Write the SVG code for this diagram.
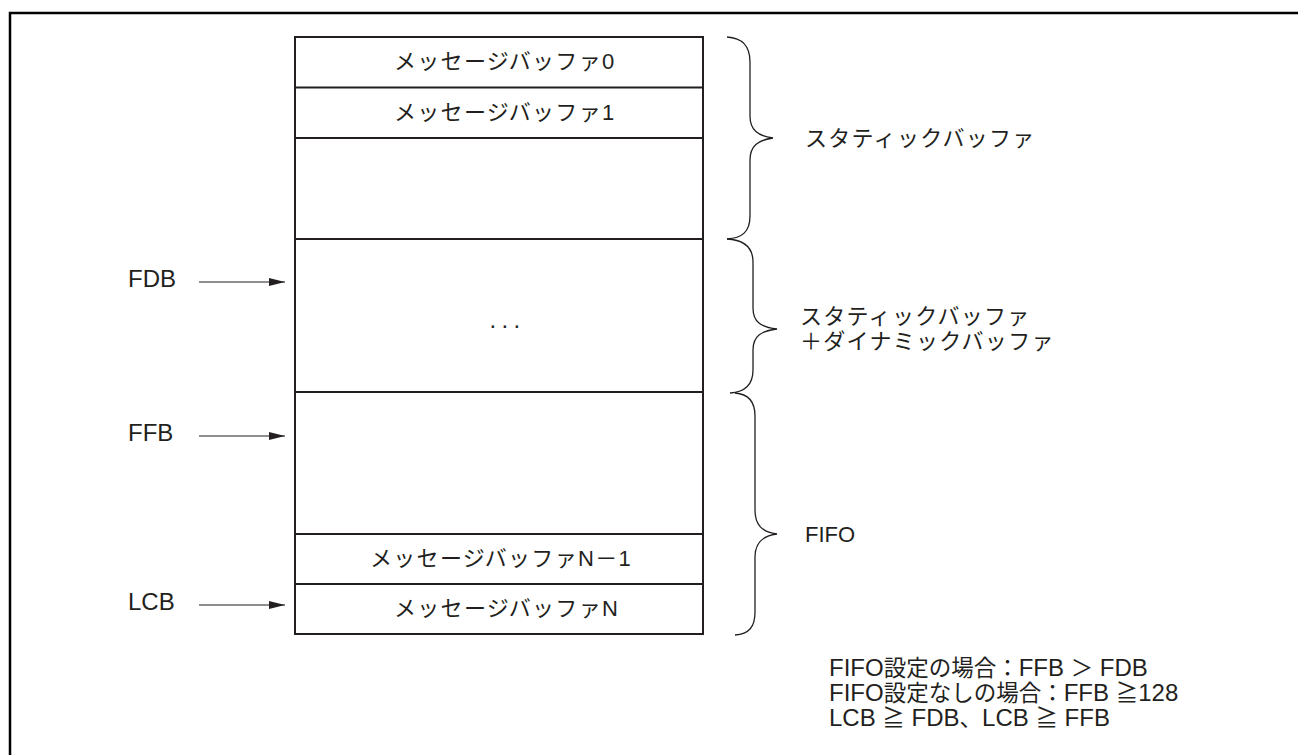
<svg xmlns="http://www.w3.org/2000/svg" width="1298" height="755" viewBox="0 0 1298 755">
<defs>
<style>
.t{font-family:"Liberation Sans","Noto Sans CJK JP",sans-serif;font-size:24px;fill:#231f20}
.k{font-family:"Liberation Sans","Noto Sans CJK JP",sans-serif;font-size:22px;letter-spacing:1.3px;fill:#231f20}
.j{font-size:22.5px}
.box{fill:#fff;stroke:#231f20;stroke-width:2}
.ln{stroke:#231f20;stroke-width:2;fill:none}
.br{stroke:#231f20;stroke-width:1.3;fill:none}
.ar{stroke:#231f20;stroke-width:1.2;fill:none}
</style>
<marker id="ah" viewBox="0 0 16 8" refX="16" refY="4" markerWidth="16" markerHeight="8" markerUnits="userSpaceOnUse" orient="auto">
<path d="M0,0 L16,4 L0,8 Z" fill="#231f20"/>
</marker>
</defs>
<rect width="1298" height="755" fill="#fff"/>
<path d="M10,755 V13 H1298" fill="none" stroke="#000" stroke-width="2.5"/>

<g id="buffer-table">
<rect class="box" x="295" y="37" width="408" height="597"/>
<line class="ln" x1="295" y1="87.5" x2="703" y2="87.5"/>
<line class="ln" x1="295" y1="138" x2="703" y2="138"/>
<line class="ln" x1="295" y1="239" x2="703" y2="239"/>
<line class="ln" x1="295" y1="392" x2="703" y2="392"/>
<line class="ln" x1="295" y1="534" x2="703" y2="534"/>
<line class="ln" x1="295" y1="584" x2="703" y2="584"/>
</g>
<g id="mb0"><text class="k" x="394" y="69">メッセージバッファ0</text></g>
<g id="mb1"><text class="k" x="394" y="120">メッセージバッファ1</text></g>
<g id="dots"><text class="t" x="489.6" y="327.5" style="letter-spacing:5.33px">...</text></g>
<g id="mbN1"><text class="k" x="370" y="566">メッセージバッファN－1</text></g>
<g id="mbN"><text class="k" x="394" y="616">メッセージバッファN</text></g>

<g id="labels-left">
<text class="t" x="128" y="287">FDB</text>
<text class="t" x="128" y="441">FFB</text>
<text class="t" x="128" y="610">LCB</text>
</g>

<g id="connectors">
<line class="ar" x1="199" y1="282" x2="285" y2="282" marker-end="url(#ah)"/>
<line class="ar" x1="199" y1="436" x2="285" y2="436" marker-end="url(#ah)"/>
<line class="ar" x1="199" y1="605" x2="285" y2="605" marker-end="url(#ah)"/>
</g>

<g id="brace-static">
<path class="br" d="M727,37 C742,38 750,45 750,62 V116 C750,130 758,136 773,138 C758,140 750,146 750,160 V216 C750,232 742,238 727,239"/>
<text class="k" x="805" y="146">スタティックバッファ</text>
</g>
<g id="brace-dynamic">
<path class="br" d="M727,239 C745,240 753,248 753,262 V308 C753,322 761,327 777,329 C761,331 753,336 753,350 V370 C753,385 745,392 730,393"/>
<text class="k" x="800" y="324">スタティックバッファ</text>
<text class="k" x="800" y="349">＋ダイナミックバッファ</text>
</g>
<g id="brace-fifo">
<path class="br" d="M735,393 C749,394 755,402 755,416 V510 C755,525 762,532 777,534 C762,536 755,543 755,557 V612 C755,627 749,634 735,635"/>
<text class="t" x="805" y="542" style="font-size:22px">FIFO</text>
</g>

<g id="notes">
<text class="t" x="829" y="676">FIFO<tspan class="j">設定の場合：</tspan>FFB <tspan class="j">＞</tspan> FDB</text>
<text class="t" x="829" y="701">FIFO<tspan class="j">設定なしの場合：</tspan>FFB <tspan class="j">≧</tspan>128</text>
<text class="t" x="829" y="726">LCB <tspan class="j">≧</tspan> FDB<tspan class="j">、</tspan>LCB <tspan class="j">≧</tspan> FFB</text>
</g>
</svg>
